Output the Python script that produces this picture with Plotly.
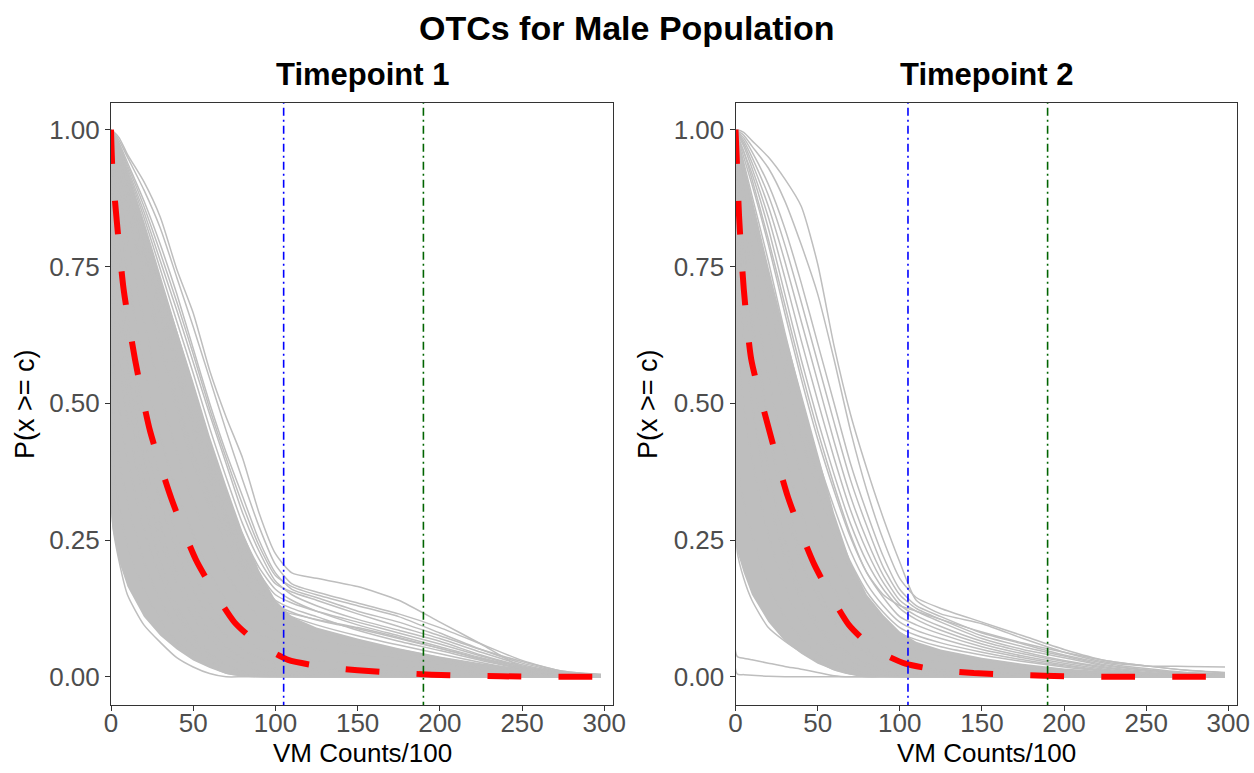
import plotly.graph_objects as go

# ---------------- data ----------------
x_grid = [0, 1, 5, 10, 20, 30, 40, 50, 60, 70, 80, 90, 100, 110, 125, 150, 175, 200, 225, 250, 275, 298]

# Timepoint 1: dense band edges (solid gray region) and individual OTC curves
tp1_band_upper = [1.0, 0.996, 0.965, 0.925, 0.83, 0.73, 0.635, 0.54, 0.44, 0.35, 0.265, 0.195, 0.14, 0.11, 0.09, 0.07, 0.052, 0.037, 0.025, 0.016, 0.009, 0.006]
tp1_band_lower = [0.30, 0.27, 0.21, 0.165, 0.11, 0.075, 0.05, 0.03, 0.016, 0.005, 0, 0, 0, 0, 0, 0, 0, 0, 0, 0, 0, 0]
tp1_c01 = [1.0, 0.998, 0.985, 0.955, 0.905, 0.84, 0.745, 0.665, 0.56, 0.475, 0.40, 0.30, 0.225, 0.19, 0.18, 0.165, 0.14, 0.10, 0.06, 0.018, 0.005, 0.002]
tp1_c02 = [1.0, 0.997, 0.98, 0.95, 0.89, 0.82, 0.73, 0.64, 0.545, 0.45, 0.36, 0.275, 0.205, 0.17, 0.155, 0.135, 0.115, 0.09, 0.06, 0.03, 0.01, 0.004]
tp1_c03 = [1.0, 0.996, 0.975, 0.94, 0.87, 0.79, 0.70, 0.60, 0.50, 0.41, 0.33, 0.25, 0.19, 0.16, 0.145, 0.12, 0.10, 0.075, 0.05, 0.028, 0.01, 0.003]
tp1_c04 = [1.0, 0.995, 0.97, 0.93, 0.85, 0.76, 0.67, 0.575, 0.48, 0.39, 0.30, 0.23, 0.175, 0.15, 0.13, 0.105, 0.085, 0.065, 0.04, 0.02, 0.008, 0.003]
tp1_c05 = [1.0, 0.99, 0.96, 0.92, 0.83, 0.73, 0.63, 0.53, 0.43, 0.34, 0.26, 0.20, 0.16, 0.14, 0.12, 0.095, 0.075, 0.055, 0.035, 0.018, 0.006, 0.002]
tp1_c06 = [1.0, 0.99, 0.95, 0.90, 0.80, 0.70, 0.59, 0.49, 0.39, 0.30, 0.23, 0.175, 0.14, 0.125, 0.11, 0.085, 0.065, 0.048, 0.03, 0.015, 0.005, 0.002]
tp1_c07 = [1.0, 0.985, 0.94, 0.88, 0.77, 0.66, 0.55, 0.45, 0.36, 0.28, 0.21, 0.16, 0.125, 0.11, 0.095, 0.075, 0.058, 0.042, 0.026, 0.012, 0.005, 0.001]
tp1_c08 = [1.0, 0.98, 0.92, 0.85, 0.72, 0.60, 0.49, 0.39, 0.31, 0.24, 0.18, 0.14, 0.11, 0.095, 0.08, 0.065, 0.05, 0.035, 0.022, 0.01, 0.004, 0.001]
tp1_c09 = [1.0, 0.97, 0.89, 0.80, 0.65, 0.52, 0.41, 0.32, 0.25, 0.19, 0.145, 0.11, 0.085, 0.075, 0.065, 0.055, 0.042, 0.03, 0.018, 0.008, 0.003, 0.001]
tp1_c10 = [1.0, 0.95, 0.85, 0.74, 0.57, 0.44, 0.34, 0.26, 0.19, 0.14, 0.105, 0.08, 0.065, 0.058, 0.05, 0.042, 0.033, 0.024, 0.014, 0.006, 0.002, 0.0]
tp1_c11 = [1.0, 0.92, 0.79, 0.66, 0.48, 0.36, 0.26, 0.19, 0.135, 0.095, 0.07, 0.052, 0.04, 0.035, 0.03, 0.025, 0.02, 0.014, 0.008, 0.004, 0.001, 0.0]
tp1_c12 = [1.0, 0.85, 0.70, 0.57, 0.40, 0.28, 0.19, 0.13, 0.085, 0.055, 0.035, 0.022, 0.015, 0.012, 0.01, 0.008, 0.006, 0.004, 0.002, 0.001, 0.0, 0.0]
tp1_c13 = [1.0, 0.70, 0.58, 0.47, 0.32, 0.21, 0.13, 0.08, 0.045, 0.022, 0.01, 0.004, 0.002, 0.001, 0, 0, 0, 0, 0, 0, 0, 0]
tp1_c14 = [1.0, 0.50, 0.40, 0.32, 0.21, 0.14, 0.09, 0.055, 0.03, 0.012, 0.004, 0.001, 0, 0, 0, 0, 0, 0, 0, 0, 0, 0]
tp1_c15 = [1.0, 0.28, 0.21, 0.15, 0.095, 0.063, 0.035, 0.018, 0.006, 0, 0, 0, 0, 0, 0, 0, 0, 0, 0, 0, 0, 0]
tp1_c16 = [1.0, 0.996, 0.97, 0.935, 0.86, 0.775, 0.685, 0.59, 0.49, 0.40, 0.315, 0.24, 0.185, 0.165, 0.15, 0.13, 0.11, 0.08, 0.05, 0.025, 0.009, 0.003]
tp1_c17 = [1.0, 0.993, 0.965, 0.925, 0.84, 0.745, 0.65, 0.555, 0.455, 0.365, 0.28, 0.215, 0.17, 0.155, 0.14, 0.115, 0.092, 0.07, 0.045, 0.022, 0.008, 0.002]
tp1_c18 = [1.0, 0.99, 0.955, 0.91, 0.815, 0.715, 0.61, 0.51, 0.41, 0.32, 0.245, 0.19, 0.15, 0.135, 0.12, 0.10, 0.08, 0.06, 0.038, 0.018, 0.006, 0.002]
tp1_c19 = [1.0, 0.985, 0.945, 0.89, 0.785, 0.68, 0.57, 0.47, 0.375, 0.29, 0.22, 0.168, 0.132, 0.118, 0.104, 0.088, 0.07, 0.052, 0.033, 0.016, 0.005, 0.001]
tp1_c20 = [1.0, 0.98, 0.93, 0.86, 0.74, 0.62, 0.51, 0.41, 0.33, 0.26, 0.20, 0.155, 0.125, 0.115, 0.105, 0.09, 0.072, 0.052, 0.032, 0.015, 0.005, 0.001]
tp1_c21 = [1.0, 0.88, 0.74, 0.62, 0.44, 0.32, 0.23, 0.16, 0.11, 0.075, 0.05, 0.035, 0.025, 0.02, 0.016, 0.012, 0.009, 0.006, 0.003, 0.001, 0, 0]
tp1_c22 = [1.0, 0.78, 0.64, 0.52, 0.36, 0.25, 0.17, 0.11, 0.07, 0.04, 0.022, 0.012, 0.007, 0.005, 0.003, 0.002, 0.001, 0, 0, 0, 0, 0]
tp1_c23 = [1.0, 0.60, 0.49, 0.40, 0.27, 0.18, 0.115, 0.07, 0.04, 0.02, 0.008, 0.003, 0.001, 0, 0, 0, 0, 0, 0, 0, 0, 0]
tp1_c24 = [1.0, 0.40, 0.31, 0.24, 0.16, 0.105, 0.065, 0.04, 0.02, 0.007, 0.002, 0, 0, 0, 0, 0, 0, 0, 0, 0, 0, 0]

tp1_mean_x = [0, 0.8, 3.3, 7.6, 14.6, 23.7, 36.8, 52.3, 75, 90, 107.7, 130, 150, 195, 237, 280, 298]
tp1_mean_y = [1.0, 0.93, 0.84, 0.71, 0.58, 0.45, 0.325, 0.21, 0.10, 0.06, 0.031, 0.018, 0.012, 0.004, 0.001, 0.0, 0.0]

# Timepoint 2
tp2_band_upper = [1.0, 0.992, 0.94, 0.875, 0.75, 0.63, 0.52, 0.41, 0.30, 0.21, 0.15, 0.113, 0.083, 0.064, 0.05, 0.035, 0.024, 0.015, 0.01, 0.007, 0.005, 0.004]
tp2_band_lower = [0.26, 0.23, 0.19, 0.15, 0.10, 0.065, 0.042, 0.024, 0.012, 0.004, 0, 0, 0, 0, 0, 0, 0, 0, 0, 0, 0, 0]
tp2_c01 = [1.0, 1.0, 0.995, 0.98, 0.95, 0.91, 0.86, 0.755, 0.605, 0.48, 0.38, 0.29, 0.21, 0.14, 0.115, 0.097, 0.07, 0.045, 0.027, 0.02, 0.019, 0.018]
tp2_c02 = [1.0, 0.998, 0.99, 0.97, 0.93, 0.87, 0.79, 0.70, 0.58, 0.45, 0.34, 0.25, 0.18, 0.145, 0.125, 0.10, 0.075, 0.05, 0.03, 0.02, 0.012, 0.008]
tp2_c03 = [1.0, 0.997, 0.985, 0.96, 0.90, 0.82, 0.72, 0.61, 0.50, 0.39, 0.30, 0.22, 0.16, 0.13, 0.11, 0.08, 0.06, 0.04, 0.025, 0.015, 0.008, 0.006]
tp2_c04 = [1.0, 0.995, 0.975, 0.94, 0.86, 0.76, 0.65, 0.54, 0.43, 0.33, 0.25, 0.185, 0.14, 0.12, 0.10, 0.07, 0.05, 0.035, 0.02, 0.012, 0.006, 0.003]
tp2_c05 = [1.0, 0.99, 0.96, 0.92, 0.82, 0.70, 0.58, 0.47, 0.37, 0.28, 0.21, 0.16, 0.125, 0.105, 0.085, 0.06, 0.042, 0.028, 0.016, 0.008, 0.004, 0.002]
tp2_c06 = [1.0, 0.985, 0.94, 0.88, 0.76, 0.63, 0.51, 0.40, 0.31, 0.23, 0.17, 0.13, 0.10, 0.085, 0.07, 0.05, 0.035, 0.022, 0.012, 0.006, 0.003, 0.001]
tp2_c07 = [1.0, 0.98, 0.92, 0.84, 0.70, 0.56, 0.44, 0.34, 0.26, 0.19, 0.14, 0.105, 0.08, 0.068, 0.055, 0.04, 0.028, 0.018, 0.01, 0.005, 0.002, 0.001]
tp2_c08 = [1.0, 0.97, 0.89, 0.79, 0.63, 0.49, 0.37, 0.28, 0.21, 0.15, 0.11, 0.08, 0.06, 0.05, 0.04, 0.03, 0.02, 0.013, 0.007, 0.003, 0.001, 0.0]
tp2_c09 = [1.0, 0.95, 0.85, 0.73, 0.55, 0.41, 0.30, 0.22, 0.16, 0.11, 0.08, 0.055, 0.04, 0.033, 0.026, 0.019, 0.013, 0.008, 0.004, 0.002, 0.0, 0.0]
tp2_c10 = [1.0, 0.92, 0.79, 0.66, 0.47, 0.33, 0.23, 0.16, 0.11, 0.075, 0.05, 0.033, 0.022, 0.017, 0.012, 0.008, 0.005, 0.003, 0.001, 0, 0, 0]
tp2_c11 = [1.0, 0.85, 0.70, 0.57, 0.38, 0.25, 0.16, 0.10, 0.065, 0.04, 0.024, 0.014, 0.008, 0.005, 0.003, 0.001, 0, 0, 0, 0, 0, 0]
tp2_c12 = [1.0, 0.60, 0.50, 0.40, 0.26, 0.165, 0.10, 0.06, 0.035, 0.018, 0.008, 0.003, 0.001, 0, 0, 0, 0, 0, 0, 0, 0, 0]
tp2_c13 = [1.0, 0.23, 0.18, 0.14, 0.09, 0.065, 0.045, 0.028, 0.013, 0.005, 0, 0, 0, 0, 0, 0, 0, 0, 0, 0, 0, 0]
tp2_c14 = [1.0, 0.037, 0.034, 0.031, 0.025, 0.019, 0.014, 0.008, 0.002, 0, 0, 0, 0, 0, 0, 0, 0, 0, 0, 0, 0, 0]
tp2_c15 = [1.0, 0.005, 0.004, 0.003, 0.001, 0, 0, 0, 0, 0, 0, 0, 0, 0, 0, 0, 0, 0, 0, 0, 0, 0]
tp2_c16 = [1.0, 0.996, 0.98, 0.95, 0.88, 0.79, 0.685, 0.575, 0.465, 0.36, 0.275, 0.20, 0.15, 0.125, 0.105, 0.075, 0.055, 0.038, 0.022, 0.013, 0.007, 0.004]
tp2_c17 = [1.0, 0.993, 0.97, 0.93, 0.84, 0.73, 0.615, 0.505, 0.40, 0.305, 0.23, 0.172, 0.132, 0.112, 0.092, 0.065, 0.046, 0.03, 0.018, 0.01, 0.005, 0.002]
tp2_c18 = [1.0, 0.99, 0.95, 0.90, 0.79, 0.665, 0.545, 0.435, 0.34, 0.255, 0.19, 0.145, 0.11, 0.095, 0.078, 0.055, 0.038, 0.025, 0.014, 0.007, 0.003, 0.001]
tp2_c19 = [1.0, 0.98, 0.93, 0.86, 0.73, 0.595, 0.475, 0.37, 0.285, 0.21, 0.155, 0.118, 0.09, 0.076, 0.062, 0.045, 0.031, 0.02, 0.011, 0.005, 0.002, 0.001]
tp2_c20 = [1.0, 0.99, 0.96, 0.91, 0.80, 0.68, 0.56, 0.45, 0.35, 0.26, 0.19, 0.15, 0.13, 0.12, 0.105, 0.082, 0.062, 0.045, 0.03, 0.02, 0.012, 0.007]
tp2_c21 = [1.0, 0.90, 0.77, 0.64, 0.45, 0.31, 0.21, 0.145, 0.10, 0.065, 0.042, 0.027, 0.018, 0.013, 0.009, 0.006, 0.004, 0.002, 0.001, 0, 0, 0]
tp2_c22 = [1.0, 0.75, 0.62, 0.50, 0.33, 0.22, 0.14, 0.09, 0.055, 0.03, 0.016, 0.008, 0.004, 0.002, 0.001, 0, 0, 0, 0, 0, 0, 0]
tp2_c23 = [1.0, 0.40, 0.32, 0.26, 0.17, 0.11, 0.07, 0.042, 0.022, 0.01, 0.003, 0.001, 0, 0, 0, 0, 0, 0, 0, 0, 0, 0]

tp2_mean_x = [0, 1.0, 2.2, 5, 9.6, 20.4, 32, 48, 69, 85, 103.5, 125, 145, 188, 231, 274, 298]
tp2_mean_y = [1.0, 0.93, 0.84, 0.71, 0.58, 0.452, 0.328, 0.205, 0.095, 0.05, 0.024, 0.012, 0.007, 0.002, 0.0, 0.0, 0.0]

cutoff_x = [105, 190]
cutoff_colors = ["#0000FF", "#006400"]

x_ticks = [0, 50, 100, 150, 200, 250, 300]
y_ticks = [0, 0.25, 0.5, 0.75, 1.0]
y_tick_text = ["0.00", "0.25", "0.50", "0.75", "1.00"]

panel_titles = ["Timepoint 1", "Timepoint 2"]
main_title = "OTCs for Male Population"
x_title = "VM Counts/100"
y_title = "P(x >= c)"

# ---------------- figure ----------------
GRAY = "#BEBEBE"
FONT = "Liberation Sans, Arial, sans-serif"

panels = [
    dict(xa="x", ya="y", upper=tp1_band_upper, lower=tp1_band_lower,
         curves=[tp1_c01, tp1_c02, tp1_c03, tp1_c04, tp1_c05, tp1_c06, tp1_c07, tp1_c08,
                 tp1_c09, tp1_c10, tp1_c11, tp1_c12, tp1_c13, tp1_c14, tp1_c15, tp1_c16,
                 tp1_c17, tp1_c18, tp1_c19, tp1_c20, tp1_c21, tp1_c22, tp1_c23, tp1_c24],
         mx=tp1_mean_x, my=tp1_mean_y),
    dict(xa="x2", ya="y2", upper=tp2_band_upper, lower=tp2_band_lower,
         curves=[tp2_c01, tp2_c02, tp2_c03, tp2_c04, tp2_c05, tp2_c06, tp2_c07, tp2_c08,
                 tp2_c09, tp2_c10, tp2_c11, tp2_c12, tp2_c13, tp2_c14, tp2_c15, tp2_c16,
                 tp2_c17, tp2_c18, tp2_c19, tp2_c20, tp2_c21, tp2_c22, tp2_c23],
         mx=tp2_mean_x, my=tp2_mean_y),
]

fig = go.Figure()
for p in panels:
    fig.add_trace(go.Scatter(
        x=x_grid + x_grid[::-1], y=p["upper"] + p["lower"][::-1],
        fill="toself", fillcolor=GRAY, mode="lines", line=dict(width=0, color=GRAY),
        xaxis=p["xa"], yaxis=p["ya"], hoverinfo="skip", showlegend=False))
    for c in p["curves"]:
        fig.add_trace(go.Scatter(
            x=x_grid, y=c, mode="lines",
            line=dict(color=GRAY, width=1.5, shape="spline", smoothing=0.6),
            xaxis=p["xa"], yaxis=p["ya"], hoverinfo="skip", showlegend=False))
    fig.add_trace(go.Scatter(
        x=p["mx"], y=p["my"], mode="lines",
        line=dict(color="#FF0000", width=6, dash="34px,37px", shape="spline", smoothing=0.6),
        xaxis=p["xa"], yaxis=p["ya"], hoverinfo="skip", showlegend=False))
    for vx, vc in zip(cutoff_x, cutoff_colors):
        fig.add_trace(go.Scatter(
            x=[vx, vx], y=[-0.06, 1.06], mode="lines",
            line=dict(color=vc, width=1.6, dash="8px,4px,2px,4px"),
            xaxis=p["xa"], yaxis=p["ya"], hoverinfo="skip", showlegend=False))

x_domains = [[111 / 1254, 613 / 1254], [735.5 / 1254, 1237 / 1254]]
y_domain = [1 - 705 / 773, 1 - 103 / 773]
y_title_x = [25 / 1254, 648 / 1254]

axis_common = dict(
    showgrid=False, zeroline=False, showline=True, mirror=True, automargin=False,
    linecolor="#333333", linewidth=1, ticks="outside", ticklen=5,
    tickwidth=1, tickcolor="#333333",
    tickfont=dict(family=FONT, size=26, color="#4D4D4D"),
)

layout_axes = {}
for i, dom in enumerate(x_domains):
    xk = "xaxis" if i == 0 else "xaxis2"
    yk = "yaxis" if i == 0 else "yaxis2"
    layout_axes[xk] = dict(
        axis_common, domain=dom, range=[0, 305.3], tickmode="array", tickvals=x_ticks,
        anchor="y" if i == 0 else "y2", ticklabelstandoff=-10)
    layout_axes[yk] = dict(
        axis_common, domain=y_domain, range=[-0.0515, 1.0488], tickmode="array",
        tickvals=y_ticks, ticktext=y_tick_text,
        anchor="x" if i == 0 else "x2")

annotations = [
    dict(text="<b>%s</b>" % main_title, x=0.5, y=1 - 28 / 773, xref="paper", yref="paper",
         xanchor="center", yanchor="middle", showarrow=False,
         font=dict(family=FONT, size=34, color="black")),
]
for t, dom, yx in zip(panel_titles, x_domains, y_title_x):
    cx = (dom[0] + dom[1]) / 2
    annotations.append(dict(
        text="<b>%s</b>" % t, x=cx, y=1 - 75 / 773, xref="paper", yref="paper",
        xanchor="center", yanchor="middle", showarrow=False,
        font=dict(family=FONT, size=31, color="black")))
    annotations.append(dict(
        text=x_title, x=cx, y=1 - 753 / 773, xref="paper", yref="paper",
        xanchor="center", yanchor="middle", showarrow=False,
        font=dict(family=FONT, size=26, color="black")))
    annotations.append(dict(
        text=y_title, x=yx, y=(y_domain[0] + y_domain[1]) / 2, xref="paper", yref="paper",
        xanchor="center", yanchor="middle", showarrow=False, textangle=-90,
        font=dict(family=FONT, size=27, color="black")))

fig.update_layout(
    width=1254, height=773, autosize=False,
    margin=dict(l=0, r=0, t=0, b=0),
    paper_bgcolor="white", plot_bgcolor="white",
    showlegend=False, annotations=annotations, **layout_axes)

fig.write_html("out.html")
